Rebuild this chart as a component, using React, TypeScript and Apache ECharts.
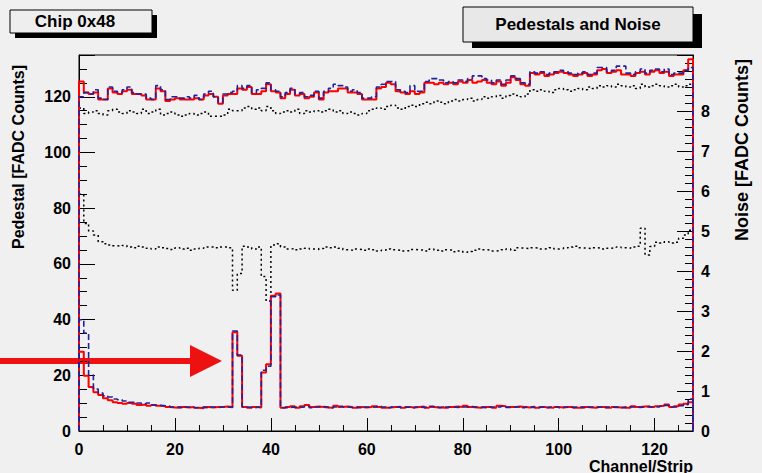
import React, { useEffect, useRef } from "react";
import * as echarts from "echarts";

// Pedestal (left axis, FADC counts), one value per channel 0..127
const pedestalRed = [
  125.5, 121.5, 121, 121.5, 119, 119, 123, 121.5, 121, 122,
  122.5, 121, 121, 120.5, 119, 119, 123, 122, 118.5, 119,
  119.5, 119, 119, 119, 119.5, 119, 120.5, 121, 120, 117.5,
  120.5, 121, 121, 123, 122.5, 123.5, 121, 121, 122, 124.5,
  122, 121.5, 119.5, 121, 122.5, 120.5, 121, 119.5, 120, 121.5,
  119, 121.5, 122, 122, 123, 123, 121.5, 121.5, 121, 119,
  119, 119, 123, 123.5, 125, 124.5, 122, 121.5, 121, 122,
  121, 121.5, 125, 125, 124.5, 125, 124.5, 125, 124.5, 125.5,
  125, 126, 125, 125.5, 126, 125, 124.5, 125.5, 124, 125,
  127, 126, 124.5, 124, 128.5, 128, 128.5, 127.5, 128, 128.5,
  129, 128.5, 128, 127.5, 128, 128.5, 127.5, 128, 129.5, 130,
  128.5, 129, 129.5, 128, 128, 127.5, 128.5, 129, 128, 129,
  129.5, 128.5, 129, 127.5, 128, 128, 129.5, 133.5,
];

const pedestalBlue = [
  120, 121.5, 121, 122.5, 119.5, 119, 123.5, 122, 121.5, 122.5,
  123.5, 121.5, 121, 121, 119.5, 119, 124, 122.5, 119, 120,
  120, 119.5, 120, 119.5, 120.5, 119, 121, 122, 120, 118,
  121, 121.5, 122, 124, 123, 124, 121.5, 122.5, 123, 125,
  122.5, 122, 120, 121.5, 123, 121, 121.5, 120, 120.5, 122,
  119.5, 122, 123, 124.5, 124, 123.5, 122, 122.5, 121.5, 119.5,
  119.5, 120, 123.5, 124.5, 125.5, 125.5, 122.5, 122, 121.5, 124,
  122, 122, 125.5, 126.5, 126.5, 126, 125, 125.5, 125, 126,
  125.5, 126.5, 127.5, 127.5, 126.5, 126, 125, 126, 124.5, 126,
  127.5, 126.5, 125, 124.5, 129, 128.5, 129, 128, 128.5, 129,
  129.5, 129, 128.5, 128, 128.5, 129, 128, 128.5, 130.5, 130.5,
  129, 129.5, 131, 131, 128.5, 128, 129, 130, 128.5, 129.5,
  130, 129, 130, 128, 128.5, 128.5, 129.5, 130.5,
];

const pedestalRef = [
  116, 114, 114.5, 115, 114, 113.5, 115, 115.5, 114.5, 114,
  115, 114.5, 114, 115.5, 114, 114.5, 115.5, 113.5, 114, 114.5,
  113.5, 113, 113.5, 114, 113.5, 114, 114.5, 113, 113, 113,
  113.5, 115.5, 115, 115, 116, 116.5, 115.5, 116, 115, 116.5,
  115, 114, 114.5, 115, 114.5, 115.5, 114, 115, 114.5, 115,
  114.5, 115, 115.5, 114.5, 115, 114, 114.5, 114, 113.5, 114,
  115, 115.5, 116, 115.5, 116.5, 117, 116, 115.5, 116.5, 117,
  116.5, 117.5, 118, 117.5, 118.5, 118, 117.5, 118.5, 119, 118.5,
  119, 119.5, 118.5, 119, 120, 119.5, 120, 120.5, 119.5, 120.5,
  121, 120.5, 120, 121, 122.5, 122, 122.5, 122, 121.5, 122.5,
  123, 122.5, 122, 122.5, 123, 122.5, 123.5, 123, 124, 123.5,
  124, 123.5, 124.5, 124, 123.5, 124, 123, 124.5, 123.5, 124,
  124.5, 124, 123.5, 124, 124.5, 123.5, 124, 124.5,
];

// Noise (right axis, FADC counts)
const noiseRed = [
  1.98, 1.38, 1.1, 0.97, 0.9, 0.82, 0.77, 0.72, 0.7, 0.68,
  0.7, 0.68, 0.65, 0.66, 0.63, 0.65, 0.63, 0.62, 0.6, 0.59,
  0.58, 0.6, 0.59, 0.6, 0.58, 0.57, 0.6, 0.59, 0.6, 0.6,
  0.61, 0.6, 2.47, 1.88, 0.6, 0.58, 0.6, 0.59, 1.46, 1.67,
  3.38, 3.44, 0.58, 0.6, 0.62, 0.58, 0.62, 0.65, 0.6, 0.61,
  0.6, 0.59, 0.58, 0.63, 0.6, 0.61, 0.6, 0.58, 0.6, 0.59,
  0.6, 0.62, 0.6, 0.58, 0.59, 0.6, 0.6, 0.58, 0.6, 0.59,
  0.6, 0.61, 0.58, 0.6, 0.59, 0.6, 0.58, 0.6, 0.61, 0.6,
  0.63, 0.6, 0.59, 0.58, 0.6, 0.6, 0.58, 0.63, 0.62, 0.6,
  0.6, 0.61, 0.6, 0.59, 0.6, 0.58, 0.6, 0.59, 0.58, 0.6,
  0.59, 0.6, 0.6, 0.58, 0.58, 0.6, 0.59, 0.58, 0.6, 0.6,
  0.58, 0.6, 0.59, 0.6, 0.58, 0.62, 0.6, 0.61, 0.62, 0.6,
  0.62, 0.63, 0.66, 0.6, 0.62, 0.66, 0.68, 0.72,
];

const noiseBlue = [
  2.78, 2.45, 1.4, 1.05, 0.95, 0.88, 0.85, 0.8, 0.78, 0.75,
  0.72, 0.72, 0.7, 0.68, 0.7, 0.65, 0.64, 0.63, 0.62, 0.6,
  0.6, 0.58, 0.6, 0.6, 0.58, 0.59, 0.58, 0.6, 0.59, 0.6,
  0.6, 0.59, 2.5, 1.9, 0.6, 0.59, 0.58, 0.6, 1.52, 1.62,
  3.36, 3.4, 0.58, 0.59, 0.6, 0.59, 0.6, 0.62, 0.58, 0.6,
  0.61, 0.6, 0.58, 0.6, 0.62, 0.6, 0.59, 0.6, 0.58, 0.6,
  0.59, 0.6, 0.62, 0.6, 0.58, 0.6, 0.61, 0.59, 0.6, 0.58,
  0.6, 0.59, 0.6, 0.62, 0.6, 0.58, 0.6, 0.6, 0.59, 0.6,
  0.6, 0.61, 0.6, 0.59, 0.58, 0.6, 0.6, 0.6, 0.62, 0.59,
  0.6, 0.6, 0.58, 0.6, 0.61, 0.59, 0.6, 0.58, 0.6, 0.6,
  0.58, 0.6, 0.59, 0.6, 0.6, 0.58, 0.6, 0.59, 0.6, 0.58,
  0.6, 0.59, 0.6, 0.58, 0.6, 0.6, 0.59, 0.6, 0.6, 0.61,
  0.6, 0.62, 0.64, 0.6, 0.6, 0.63, 0.66, 0.8,
];

const noiseRef = [
  5.92, 5.19, 5.0, 4.9, 4.73, 4.68, 4.65, 4.63, 4.62, 4.64,
  4.6, 4.58, 4.62, 4.6, 4.57, 4.55, 4.6, 4.58, 4.56, 4.54,
  4.58, 4.55, 4.57, 4.52, 4.55, 4.57, 4.6, 4.6, 4.58, 4.6,
  4.6, 4.58, 3.52, 3.94, 4.62, 4.6, 4.55, 4.6, 3.86, 3.25,
  4.65, 4.68, 4.6, 4.55, 4.56, 4.53, 4.55, 4.57, 4.55, 4.54,
  4.56, 4.6, 4.58, 4.6, 4.57, 4.53, 4.52, 4.55, 4.54, 4.52,
  4.55, 4.53, 4.5, 4.52, 4.55, 4.53, 4.52, 4.5, 4.51, 4.54,
  4.53, 4.52, 4.5, 4.55, 4.52, 4.5, 4.53, 4.52, 4.48, 4.5,
  4.47, 4.49, 4.52, 4.55, 4.53, 4.52, 4.5, 4.51, 4.53, 4.55,
  4.52, 4.58, 4.57, 4.56, 4.58, 4.57, 4.55, 4.56, 4.58, 4.55,
  4.56, 4.58, 4.6, 4.62, 4.58, 4.57, 4.56, 4.58, 4.57, 4.55,
  4.57, 4.58, 4.6, 4.58, 4.57, 4.6, 4.62, 5.07, 4.4, 4.61,
  4.72, 4.7, 4.73, 4.7, 4.72, 4.82, 4.9, 5.02,
];

const xTickLabels = [0, 20, 40, 60, 80, 100, 120];
const pedTickLabels = [0, 20, 40, 60, 80, 100, 120];
const noiseTickLabels = [0, 1, 2, 3, 4, 5, 6, 7, 8];

const N_CH = 128;
const PED_MAX = 135;
const NOISE_MAX = 9.4;

const FONT = "'Liberation Sans', Arial, Helvetica, sans-serif";

function histo(values: number[], dropEdges: boolean): number[][] {
  const pts: number[][] = [];
  if (dropEdges) pts.push([0, 0]);
  values.forEach((v, i) => pts.push([i, v]));
  pts.push([values.length, values[values.length - 1]]);
  if (dropEdges) pts.push([values.length, 0]);
  return pts;
}

export default function App() {
  const ref = useRef<HTMLDivElement>(null);

  useEffect(() => {
    if (!ref.current) return;
    const chart = echarts.init(ref.current, null, { renderer: "svg" });

    const labelStyle = {
      color: "#000",
      fontFamily: FONT,
      fontWeight: "bold" as const,
      fontSize: 16,
    };

    const stepSeries = (
      name: string,
      values: number[],
      yAxisIndex: number,
      color: string,
      type: any,
      width: number,
      dropEdges: boolean
    ) => ({
      name,
      type: "line",
      xAxisIndex: 0,
      yAxisIndex,
      step: "end",
      showSymbol: false,
      symbol: "none",
      silent: true,
      data: histo(values, dropEdges),
      lineStyle: { color, type, width },
    });

    const option: any = {
      animation: false,
      backgroundColor: "#f0f0f0",
      grid: {
        left: 79,
        right: 69,
        top: 55,
        bottom: 42,
        show: true,
        borderColor: "#000",
        borderWidth: 1,
        backgroundColor: "transparent",
      },
      xAxis: [
        {
          type: "value",
          min: 0,
          max: N_CH,
          interval: 20,
          position: "bottom",
          axisLine: { show: true, lineStyle: { color: "#000", width: 1 } },
          axisTick: { show: true, inside: true, length: 13, lineStyle: { color: "#000" } },
          axisLabel: {
            ...labelStyle,
            margin: 10,
            formatter: (v: number) => (xTickLabels.includes(v) ? String(v) : ""),
          },
          splitLine: { show: false },
        },
        {
          type: "value",
          min: 0,
          max: N_CH,
          interval: 5,
          position: "bottom",
          axisLine: { show: false },
          axisTick: { show: true, inside: true, length: 6, lineStyle: { color: "#000" } },
          axisLabel: { show: false },
          splitLine: { show: false },
        },
      ],
      yAxis: [
        {
          type: "value",
          min: 0,
          max: PED_MAX,
          interval: 20,
          position: "left",
          axisLine: { show: true, lineStyle: { color: "#000" } },
          axisTick: { show: true, inside: true, length: 16, lineStyle: { color: "#000" } },
          axisLabel: {
            ...labelStyle,
            margin: 8,
            formatter: (v: number) => (pedTickLabels.includes(v) ? String(v) : ""),
          },
          splitLine: { show: false },
        },
        {
          type: "value",
          min: 0,
          max: PED_MAX,
          interval: 5,
          position: "left",
          axisLine: { show: false },
          axisTick: { show: true, inside: true, length: 8, lineStyle: { color: "#000" } },
          axisLabel: { show: false },
          splitLine: { show: false },
        },
        {
          type: "value",
          min: 0,
          max: NOISE_MAX,
          interval: 1,
          position: "right",
          axisLine: { show: true, lineStyle: { color: "#000" } },
          axisTick: { show: true, inside: true, length: 16, lineStyle: { color: "#000" } },
          axisLabel: {
            ...labelStyle,
            margin: 8,
            formatter: (v: number) => (noiseTickLabels.includes(v) ? String(v) : ""),
          },
          splitLine: { show: false },
        },
        {
          type: "value",
          min: 0,
          max: NOISE_MAX,
          interval: 0.2,
          position: "right",
          axisLine: { show: false },
          axisTick: { show: true, inside: true, length: 8, lineStyle: { color: "#000" } },
          axisLabel: { show: false },
          splitLine: { show: false },
        },
      ],
      series: [
        stepSeries("Pedestal ref", pedestalRef, 0, "#000", [2, 3], 1.5, false),
        stepSeries("Noise ref", noiseRef, 2, "#000", [2, 3], 1.5, false),
        stepSeries("Pedestal", pedestalRed, 0, "#ff0000", "solid", 2, true),
        stepSeries("Noise", noiseRed, 2, "#ff0000", "solid", 2, true),
        stepSeries("Pedestal 2", pedestalBlue, 0, "#22229a", [6, 3], 1.6, true),
        stepSeries("Noise 2", noiseBlue, 2, "#22229a", [6, 3], 1.6, true),
      ],
      graphic: [
        // axis titles
        {
          type: "text",
          x: 18,
          y: 157,
          rotation: Math.PI / 2,
          style: {
            text: "Pedestal [FADC Counts]",
            fill: "#000",
            font: `bold 16px ${FONT}`,
            textAlign: "center",
            textVerticalAlign: "middle",
          },
        },
        {
          type: "text",
          x: 742,
          y: 150,
          rotation: Math.PI / 2,
          style: {
            text: "Noise [FADC Counts]",
            fill: "#000",
            font: `bold 18px ${FONT}`,
            textAlign: "center",
            textVerticalAlign: "middle",
          },
        },
        {
          type: "text",
          x: 693,
          y: 466,
          style: {
            text: "Channel/Strip",
            fill: "#000",
            font: `bold 16px ${FONT}`,
            textAlign: "right",
            textVerticalAlign: "middle",
          },
        },
        // "Chip 0x48" box with shadow
        { type: "rect", shape: { x: 15, y: 15, width: 142, height: 23 }, style: { fill: "#000" } },
        {
          type: "rect",
          shape: { x: 10, y: 10, width: 142, height: 23 },
          style: { fill: "#eeeeee", stroke: "#000", lineWidth: 1 },
        },
        {
          type: "text",
          x: 75,
          y: 21,
          style: {
            text: "Chip 0x48",
            fill: "#000",
            font: `bold 17px ${FONT}`,
            textAlign: "center",
            textVerticalAlign: "middle",
          },
        },
        // "Pedestals and Noise" box with shadow
        { type: "rect", shape: { x: 472, y: 14, width: 230, height: 34 }, style: { fill: "#000" } },
        {
          type: "rect",
          shape: { x: 463, y: 7, width: 230, height: 35 },
          style: { fill: "#e8e8e8", stroke: "#000", lineWidth: 1 },
        },
        {
          type: "text",
          x: 578,
          y: 24,
          style: {
            text: "Pedestals and Noise",
            fill: "#000",
            font: `bold 17px ${FONT}`,
            textAlign: "center",
            textVerticalAlign: "middle",
          },
        },
        // red annotation arrow
        { type: "rect", shape: { x: 0, y: 358, width: 192, height: 6 }, style: { fill: "#ee1111" } },
        {
          type: "polygon",
          shape: { points: [[190, 345], [222, 361], [190, 377]] },
          style: { fill: "#ee1111" },
        },
      ],
    };

    chart.setOption(option);
    return () => chart.dispose();
  }, []);

  return (
    <div
      ref={ref}
      style={{ position: "absolute", left: 0, top: 0, width: 762, height: 473 }}
    />
  );
}
